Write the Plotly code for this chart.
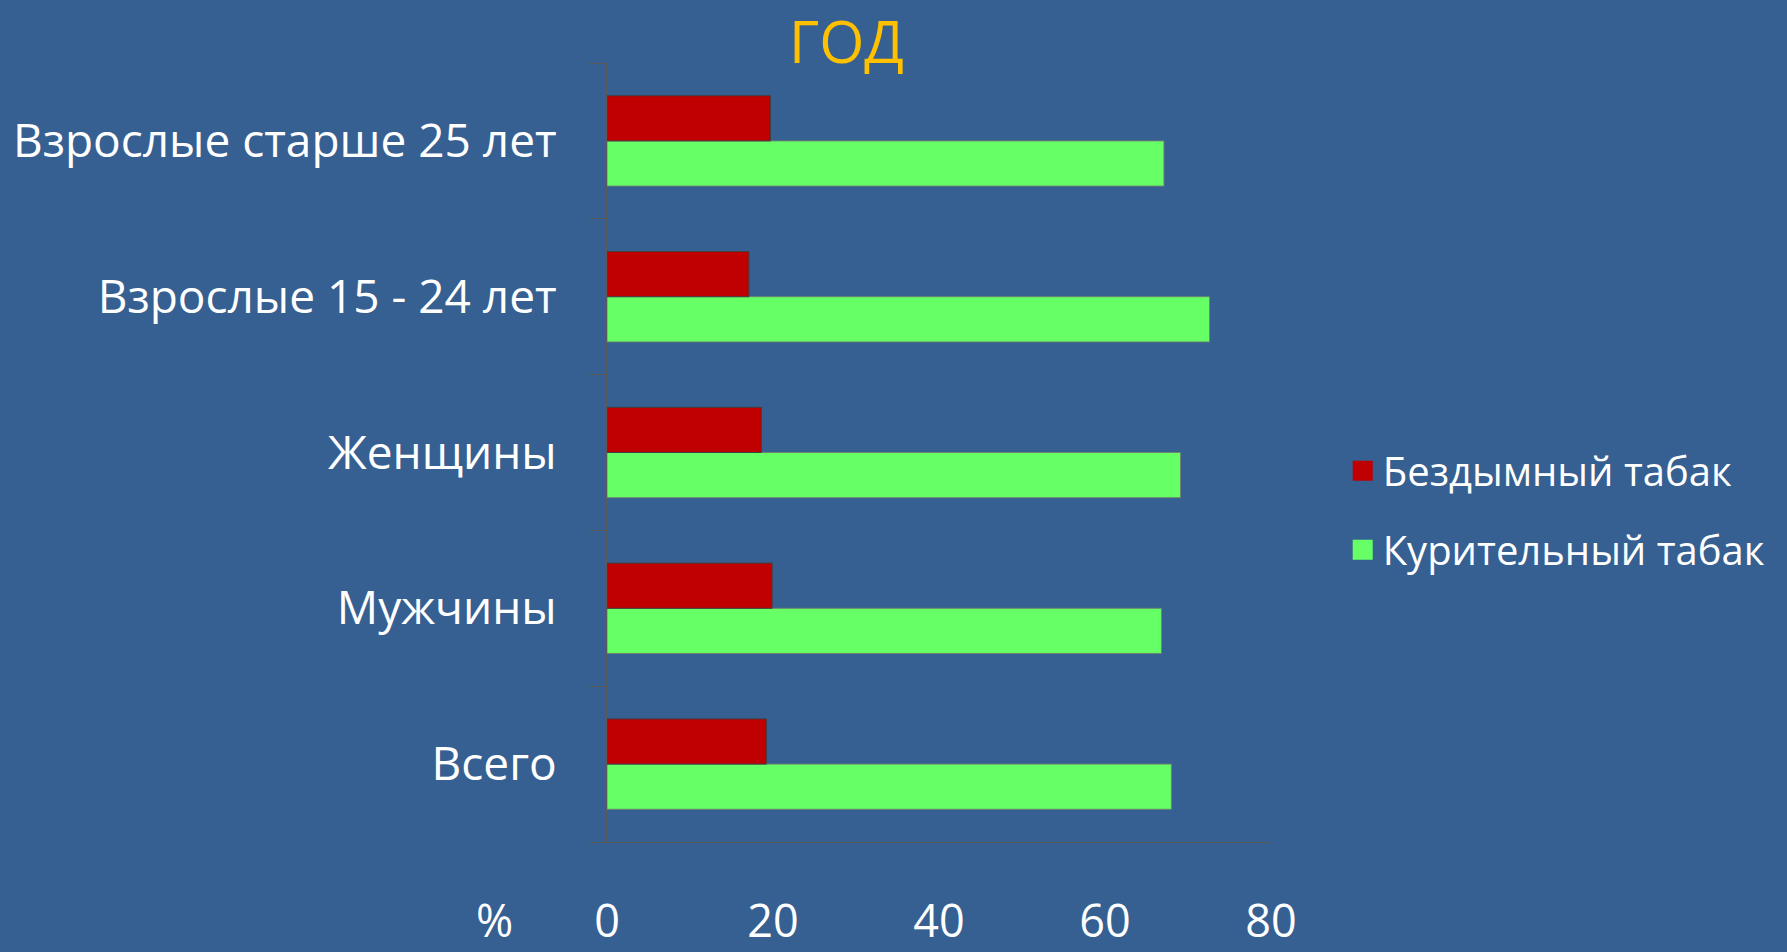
import plotly.graph_objects as go

categories = ["Всего", "Мужчины", "Женщины", "Взрослые 15 - 24 лет", "Взрослые старше 25 лет"]
smokeless = [19.2, 19.9, 18.6, 17.1, 19.7]
smoking = [68.0, 66.8, 69.1, 72.6, 67.1]
series_names = ["Бездымный табак", "Курительный табак"]
x_ticks = [0, 20, 40, 60, 80]

BG = "#366092"
GRID = "#5a5a5a"
FONT = "Open Sans"
RED = "#C00000"
GREEN = "#66FF66"

fig = go.Figure()
fig.add_trace(go.Bar(
    y=categories, x=smoking, orientation="h", name=series_names[1],
    marker=dict(color=GREEN, line=dict(color="rgba(110,130,110,0.9)", width=1)),
    showlegend=False,
))
fig.add_trace(go.Bar(
    y=categories, x=smokeless, orientation="h", name=series_names[0],
    marker=dict(color=RED, line=dict(color="#404040", width=1)),
    showlegend=False,
))
# legend entries (larger square swatches)
for name, col, grp, rank in [(series_names[0], RED, "a", 1), (series_names[1], GREEN, "b", 2)]:
    fig.add_trace(go.Scatter(
        x=[None], y=[None], mode="markers", name=name,
        marker=dict(symbol="square", size=16, color=col, line=dict(color=col, width=4)),
        legendgroup=grp, legendrank=rank, hoverinfo="skip",
    ))

fig.update_layout(
    width=1787, height=952,
    margin=dict(l=607, r=516, t=63, b=110, pad=0, autoexpand=False),
    paper_bgcolor=BG, plot_bgcolor=BG,
    barmode="group", bargap=0.42, bargroupgap=0,
    font=dict(family=FONT, color="white", size=46),
    legend=dict(
        x=1.108, y=0.426, xanchor="left", yanchor="middle",
        traceorder="grouped", tracegroupgap=24,
        font=dict(family=FONT, size=40, color="white"),
        bgcolor="rgba(0,0,0,0)", itemsizing="trace",
    ),
    xaxis=dict(
        range=[0, 80], tickvals=x_ticks, ticktext=[str(v) for v in x_ticks],
        showgrid=True, gridcolor=GRID, gridwidth=1.3,
        showline=True, linecolor=GRID, linewidth=1,
        ticks="outside", ticklen=16, tickcolor=GRID,
        zeroline=False, ticklabelstandoff=24, automargin=False,
        tickfont=dict(family=FONT, size=45, color="white"),
        fixedrange=True,
    ),
    yaxis=dict(
        categoryorder="array", categoryarray=categories,
        showgrid=False, showline=True, linecolor=GRID, linewidth=1.3, mirror=True,
        ticks="outside", ticklen=17, tickcolor=GRID, tickson="boundaries",
        ticklabelstandoff=40, automargin=False,
        tickfont=dict(family=FONT, size=46, color="white"),
        fixedrange=True,
    ),
    annotations=[
        dict(text="ГОД", xref="paper", yref="paper", x=0.36, y=1.0295,
             xanchor="center", yanchor="middle", showarrow=False,
             font=dict(family=FONT, size=58, color="#FFC000")),
        dict(text="%", xref="paper", yref="paper", x=-0.170, y=-0.100,
             xanchor="center", yanchor="middle", showarrow=False,
             font=dict(family=FONT, size=45, color="white")),
    ],
)

fig.write_html("out.html", config={"displayModeBar": False},
               post_script="document.body.style.margin='0';document.body.style.overflow='hidden';")
